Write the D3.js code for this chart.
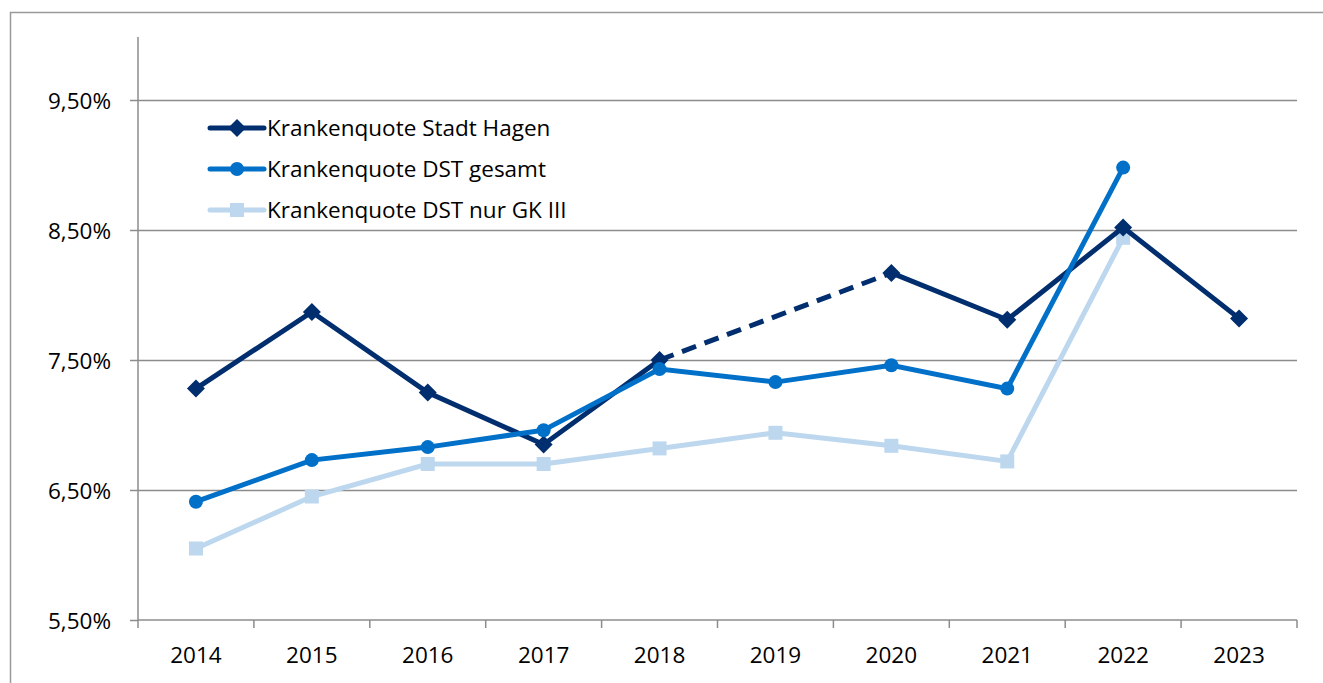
<!DOCTYPE html>
<html>
<head>
<meta charset="utf-8">
<script src="https://cdn.jsdelivr.net/npm/d3@7"></script>
<style>
  body { margin: 0; background: #fff; }
  text { font-family: "Open Sans", "Noto Sans", sans-serif; fill: #000; }
</style>
</head>
<body>
<div id="chart"></div>
<script>
var years = ["2014","2015","2016","2017","2018","2019","2020","2021","2022","2023"];
var hagen   = [7.28, 7.87, 7.25, 6.85, 7.50, null, 8.17, 7.81, 8.52, 7.82];
var gesamt  = [6.41, 6.73, 6.83, 6.96, 7.43, 7.33, 7.46, 7.28, 8.98, null];
var gk3     = [6.05, 6.45, 6.70, 6.70, 6.82, 6.94, 6.84, 6.72, 8.44, null];
var yTicks  = [5.5, 6.5, 7.5, 8.5, 9.5];
var seriesNames = ["Krankenquote Stadt Hagen", "Krankenquote DST gesamt", "Krankenquote DST nur GK III"];

var width = 1323, height = 683;
var plotLeft = 138, plotRight = 1297, plotTop = 37, plotBottom = 620;
var fontSize = "22.5px";

var svg = d3.select("#chart").append("svg")
    .attr("width", width)
    .attr("height", height);

// outer frame (only left/top visible)
svg.append("rect")
    .attr("x", 10.5).attr("y", 12.5)
    .attr("width", width + 20).attr("height", height + 20)
    .attr("fill", "none").attr("stroke", "#999").attr("stroke-width", 1.5);

var x = d3.scaleBand().domain(years).range([plotLeft, plotRight]);
// 130px per percentage point
var y = d3.scaleLinear().domain([5.5, 10]).range([plotBottom, plotBottom - 4.5 * 130]);

var fmt = function(d) { return d3.format(".2f")(d).replace(".", ",") + "%"; };

// gridlines
svg.append("g").selectAll("line")
    .data(yTicks.slice(1))
    .enter().append("line")
    .attr("x1", plotLeft).attr("x2", plotRight)
    .attr("y1", function(d) { return Math.round(y(d)) + 0.5; })
    .attr("y2", function(d) { return Math.round(y(d)) + 0.5; })
    .attr("stroke", "#8c8c8c").attr("stroke-width", 1.5);

// y axis
var yAxis = svg.append("g")
    .attr("transform", "translate(" + plotLeft + ",0)")
    .call(d3.axisLeft(y).tickValues(yTicks).tickFormat(fmt).tickSize(8).tickPadding(19));
yAxis.select(".domain").attr("stroke", "#8c8c8c").attr("stroke-width", 1.5)
    .attr("d", "M0," + plotTop + "V" + plotBottom);
yAxis.selectAll(".tick line").attr("stroke", "#8c8c8c").attr("stroke-width", 1.5);
yAxis.selectAll(".tick text").style("font-size", fontSize).attr("dy", "0.36em")
    .style("font-family", "'Open Sans', sans-serif").attr("fill", "#000");

// x axis
var xAxis = svg.append("g")
    .attr("transform", "translate(0," + plotBottom + ")");
xAxis.append("line")
    .attr("x1", plotLeft).attr("x2", plotRight)
    .attr("stroke", "#8c8c8c").attr("stroke-width", 1.5);
var bounds = years.map(function(d) { return x(d); }).concat([x(years[years.length - 1]) + x.bandwidth()]);
xAxis.selectAll(".xt").data(bounds).enter().append("line")
    .attr("x1", function(d) { return d; }).attr("x2", function(d) { return d; })
    .attr("y1", 0).attr("y2", 8)
    .attr("stroke", "#8c8c8c").attr("stroke-width", 1.5);
xAxis.selectAll(".xl").data(years).enter().append("text")
    .attr("x", function(d) { return x(d) + x.bandwidth() / 2; })
    .attr("y", 43)
    .attr("text-anchor", "middle")
    .style("font-size", fontSize)
    .text(function(d) { return d; });

var cx = function(i) { return x(years[i]) + x.bandwidth() / 2; };

var line = d3.line()
    .defined(function(d) { return d != null; })
    .x(function(d, i) { return cx(i); })
    .y(function(d) { return y(d); });

var colors = ["#002e6e", "#0070c8", "#bdd7ee"];

function drawMarker(g, px, py, color, shape) {
  if (shape === "diamond") {
    g.append("path")
      .attr("d", "M" + px + "," + (py - 9) + "L" + (px + 9) + "," + py + "L" + px + "," + (py + 9) + "L" + (px - 9) + "," + py + "Z")
      .attr("fill", color);
  } else if (shape === "circle") {
    g.append("circle").attr("cx", px).attr("cy", py).attr("r", 7).attr("fill", color);
  } else {
    g.append("rect").attr("x", px - 7).attr("y", py - 7).attr("width", 14).attr("height", 14).attr("fill", color);
  }
}

function markers(g, data, color, shape) {
  data.forEach(function(d, i) {
    if (d == null) return;
    drawMarker(g, cx(i), y(d), color, shape);
  });
}

// GK III (bottom)
var g3 = svg.append("g");
g3.append("path").datum(gk3).attr("d", line)
  .attr("fill", "none").attr("stroke", colors[2]).attr("stroke-width", 5);
markers(g3, gk3, colors[2], "square");

// Hagen
var g1 = svg.append("g");
g1.append("path").datum(hagen).attr("d", line)
  .attr("fill", "none").attr("stroke", colors[0]).attr("stroke-width", 5);
// dashed bridge over the missing 2019 value
g1.append("line")
  .attr("x1", cx(4)).attr("y1", y(hagen[4]))
  .attr("x2", cx(6)).attr("y2", y(hagen[6]))
  .attr("stroke", colors[0]).attr("stroke-width", 5)
  .attr("stroke-dasharray", "15,9");
markers(g1, hagen, colors[0], "diamond");

// gesamt (top)
var g2 = svg.append("g");
g2.append("path").datum(gesamt).attr("d", line)
  .attr("fill", "none").attr("stroke", colors[1]).attr("stroke-width", 5);
markers(g2, gesamt, colors[1], "circle");

// legend
var shapes = ["diamond", "circle", "square"];
var lg = svg.append("g");
seriesNames.forEach(function(name, i) {
  var ly = 128 + i * 41;
  lg.append("line").attr("x1", 210).attr("x2", 264).attr("y1", ly).attr("y2", ly)
    .attr("stroke", colors[i]).attr("stroke-width", 5).attr("stroke-linecap", "round");
  drawMarker(lg, 237, ly, colors[i], shapes[i]);
  lg.append("text").attr("x", 267).attr("y", ly).attr("dy", "0.36em")
    .style("font-size", fontSize).text(name);
});
</script>
</body>
</html>
